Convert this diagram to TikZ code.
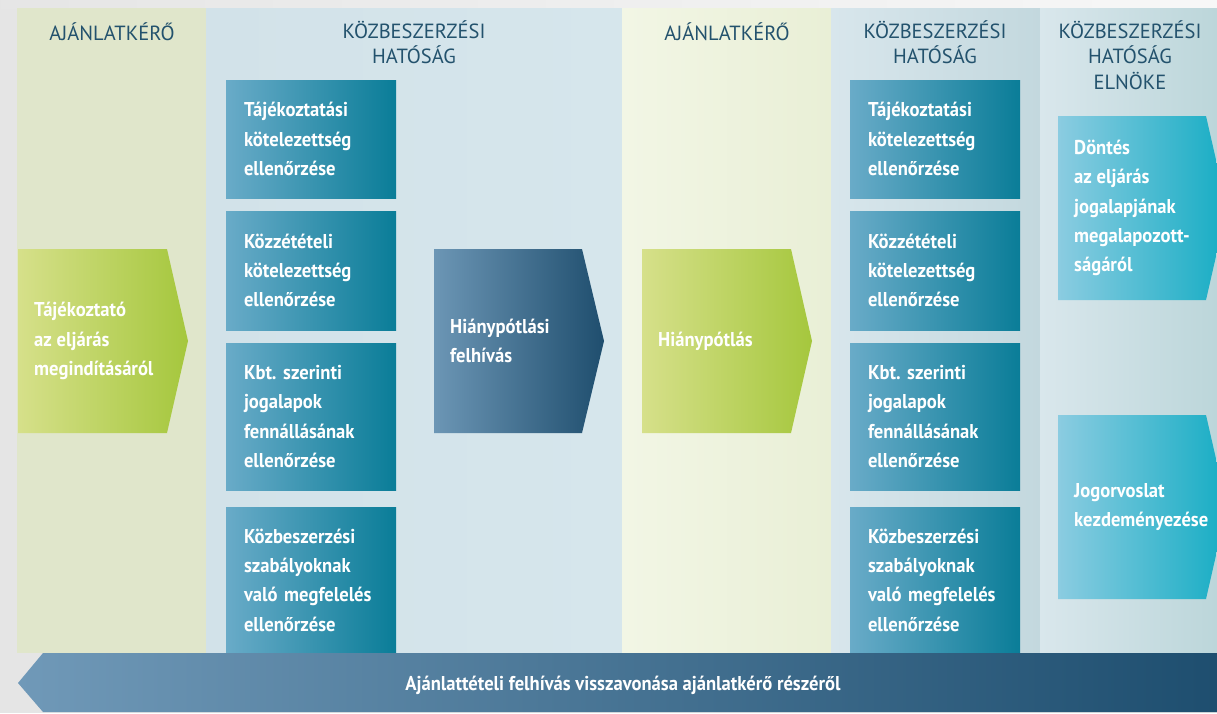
\documentclass[tikz,border=0pt]{standalone}
\usepackage{fontspec}
\setmainfont{PT Sans}[FakeStretch=0.93]
\newfontfamily\headfont{PT Sans}
\begin{document}
\frenchspacing
\begin{tikzpicture}[x=1pt,y=-1pt,
  headtxt/.style={text=headc, font=\headfont\fontsize{20.5}{25.5}\selectfont, align=center, inner sep=0pt},
  boxtxt/.style={text=white, font=\bfseries\fontsize{20}{29.3}\selectfont, align=left, inner sep=0pt, anchor=west},
  tealbox/.style={left color=tealL, right color=tealR, draw=none, minimum width=170pt, inner xsep=18pt, inner ysep=0pt, text width=134pt},
  greenfill/.style={left color=greenL, right color=greenR},
  darkfill/.style={left color=darkL, right color=darkR},
  cyanfill/.style={left color=cyanL, right color=cyanR},
]
\definecolor{headc}{HTML}{23526D}
\definecolor{tealL}{HTML}{69ABC8}
\definecolor{tealR}{HTML}{0A7D98}
\definecolor{greenL}{HTML}{D6E08A}
\definecolor{greenR}{HTML}{A5C73D}
\definecolor{darkL}{HTML}{6C96B5}
\definecolor{darkR}{HTML}{1F4E6E}
\definecolor{cyanL}{HTML}{8BCCE1}
\definecolor{cyanR}{HTML}{16ADC4}
\definecolor{barL}{HTML}{7099B8}
\definecolor{barR}{HTML}{1E4E6F}
\useasboundingbox (0,0) rectangle (1217,713);
\clip (0,0) rectangle (1217,713);
% background
\fill[black!10] (0,0) rectangle (1217,713);
\shade[left color=black!10, right color=black!3] (0,0) rectangle (1217,8);
% columns
\fill[color={rgb,255:red,224;green,230;blue,203}] (17,8) rectangle (206,653);
\shade[left color={rgb,255:red,210;green,226;blue,233}, right color={rgb,255:red,214;green,230;blue,236}] (206,8) rectangle (622,653);
\shade[left color={rgb,255:red,242;green,246;blue,229}, right color={rgb,255:red,233;green,239;blue,214}] (622,8) rectangle (831,653);
\shade[left color={rgb,255:red,216;green,230;blue,236}, right color={rgb,255:red,195;green,216;blue,222}] (831,8) rectangle (1040,653);
\shade[left color={rgb,255:red,217;green,231;blue,236}, right color={rgb,255:red,188;green,214;blue,218}] (1040,8) rectangle (1217,653);
% headers
\node[headtxt] (h1) at (112,32) {AJÁNLATKÉRŐ};
\node[headtxt, anchor=north] (h2) at (414,20) {KÖZBESZERZÉSI\\HATÓSÁG};
\node[headtxt] (h3) at (727,32) {AJÁNLATKÉRŐ};
\node[headtxt, anchor=north] (h4) at (935,20) {KÖZBESZERZÉSI\\HATÓSÁG};
\node[headtxt, anchor=north] (h5) at (1130,20) {KÖZBESZERZÉSI\\HATÓSÁG\\ELNÖKE};
% teal boxes column 2
\node[tealbox, boxtxt, anchor=center, minimum height=118pt] (a1) at (311,139) {Tájékoztatási\\kötelezettség\\ellenőrzése};
\node[tealbox, boxtxt, anchor=center, minimum height=119pt] (a2) at (311,270.5) {Közzétételi\\kötelezettség\\ellenőrzése};
\node[tealbox, boxtxt, anchor=center, minimum height=147pt] (a3) at (311,416.5) {Kbt. szerinti\\jogalapok\\fennállásának\\ellenőrzése};
\node[tealbox, boxtxt, anchor=center, minimum height=146pt] (a4) at (311,580) {Közbeszerzési\\szabályoknak\\való megfelelés\\ellenőrzése};
% teal boxes column 4
\node[tealbox, boxtxt, anchor=center, minimum height=118pt] (b1) at (935,139) {Tájékoztatási\\kötelezettség\\ellenőrzése};
\node[tealbox, boxtxt, anchor=center, minimum height=119pt] (b2) at (935,270.5) {Közzétételi\\kötelezettség\\ellenőrzése};
\node[tealbox, boxtxt, anchor=center, minimum height=147pt] (b3) at (935,416.5) {Kbt. szerinti\\jogalapok\\fennállásának\\ellenőrzése};
\node[tealbox, boxtxt, anchor=center, minimum height=146pt] (b4) at (935,580) {Közbeszerzési\\szabályoknak\\való megfelelés\\ellenőrzése};
% arrows
\shade[greenfill] (18,249) -- (167,249) -- (188,341) -- (167,433) -- (18,433) -- cycle;
\node[boxtxt] (g1) at (34,341) {Tájékoztató\\az eljárás\\megindításáról};
\shade[darkfill] (434,249) -- (582,249) -- (604,341) -- (582,433) -- (434,433) -- cycle;
\node[boxtxt] (d1) at (450,341) {Hiánypótlási\\felhívás};
\shade[greenfill] (642,249) -- (791,249) -- (812,341) -- (791,433) -- (642,433) -- cycle;
\node[boxtxt] (g2) at (658,341) {Hiánypótlás};
\shade[cyanfill] (1058,116) -- (1206,116) -- (1227,208) -- (1206,300) -- (1058,300) -- cycle;
\node[boxtxt] (c1) at (1074,208) {Döntés\\az eljárás\\jogalapjának\\megalapozott-\\ságáról};
\shade[cyanfill] (1058,415) -- (1206,415) -- (1227,507) -- (1206,599) -- (1058,599) -- cycle;
\node[boxtxt] (c2) at (1074,507) {Jogorvoslat\\kezdeményezése};
% bottom bar
\shade[left color=barL, right color=barR] (43,653) -- (1217,653) -- (1217,712) -- (43,712) -- (18,683) -- cycle;
\node[boxtxt, anchor=center] (bar) at (623,685) {Ajánlattételi felhívás visszavonása ajánlatkérő részéről};
\end{tikzpicture}
\end{document}
